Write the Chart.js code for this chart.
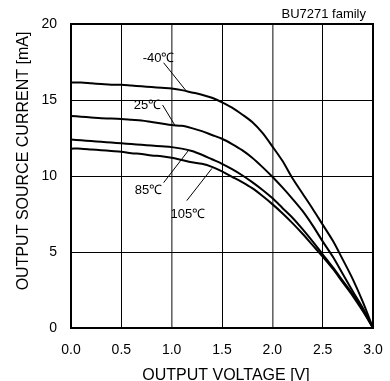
<!DOCTYPE html>
<html>
<head>
<meta charset="utf-8">
<script src="https://cdn.jsdelivr.net/npm/chart.js@4.4.1/dist/chart.umd.min.js"></script>
<style>
  html, body { margin: 0; padding: 0; background: #fff; overflow: hidden; }
  #wrap { width: 390px; height: 381px; }
</style>
</head>
<body>
<div id="wrap"><canvas id="myChart" width="390" height="381"></canvas></div>
<script>
// 出力電圧 [V]
var voltage = [0.0,0.1,0.2,0.3,0.4,0.5,0.6,0.7,0.8,0.9,1.0,1.1,1.2,1.3,1.4,1.5,
               1.6,1.7,1.8,1.9,2.0,2.1,2.2,2.3,2.4,2.5,2.6,2.7,2.8,2.9,3.0];
// 出力ソース電流 [mA]
var cur_m40 = [16.15,16.15,16.1,16.05,16.0,16.0,15.95,15.9,15.85,15.8,15.75,15.65,15.5,15.35,15.15,14.85,
               14.5,14.05,13.55,12.85,11.95,11.0,9.85,8.85,7.85,6.8,5.75,4.5,3.2,1.7,0];
var cur_25  = [13.95,13.9,13.85,13.8,13.78,13.75,13.7,13.65,13.55,13.45,13.35,13.3,13.15,12.95,12.7,12.45,
               12.1,11.7,11.2,10.6,9.95,9.25,8.5,7.7,6.75,5.7,4.7,3.55,2.4,1.3,0];
var cur_85  = [12.4,12.35,12.3,12.25,12.2,12.15,12.1,12.05,12.0,11.95,11.9,11.8,11.65,11.4,11.1,10.8,
               10.45,10.05,9.6,9.1,8.55,7.9,7.25,6.5,5.7,4.85,4.0,3.1,2.2,1.2,0];
var cur_105 = [11.8,11.8,11.75,11.7,11.65,11.6,11.5,11.45,11.35,11.3,11.2,11.05,10.9,10.8,10.6,10.3,
               9.95,9.6,9.2,8.7,8.15,7.55,6.9,6.2,5.45,4.7,3.9,3.0,2.1,1.1,0];
var x_ticks = [0.0,0.5,1.0,1.5,2.0,2.5,3.0];
var y_ticks = [0,5,10,15,20];
var x_title = 'OUTPUT VOLTAGE [V]';
var y_title = 'OUTPUT SOURCE CURRENT [mA]';
var note = 'BU7271 family';

// 温度ラベルと引き出し線 (データ座標)
var labels = [
  {text:'-40℃', x:0.87, y:17.75, line:[0.92,17.45,1.15,15.55]},
  {text:'25℃',  x:0.76, y:14.67, line:[0.91,14.67,1.03,13.36]},
  {text:'85℃',  x:0.77, y:9.05,  line:[0.92,9.56,1.17,11.71]},
  {text:'105℃', x:1.16, y:7.48,  line:[1.15,8.38,1.40,10.5]}
];

function pts(arr){
  var out = [];
  for (var i = 0; i < voltage.length; i++) out.push({x: voltage[i], y: arr[i]});
  return out;
}
function ds(arr){
  return {data: pts(arr), borderColor:'#000', borderWidth:2, pointRadius:0, tension:0.3, fill:false};
}

var FONT = 'Liberation Sans, Arial, sans-serif';

var frame = {
  id: 'frame',
  afterDatasetsDraw: function(chart){
    var c = chart.ctx, a = chart.chartArea, xs = chart.scales.x, ys = chart.scales.y;
    c.save();
    c.strokeStyle = '#000';
    c.lineWidth = 2;
    c.strokeRect(a.left, a.top, a.right - a.left, a.bottom - a.top);
    // ラベル
    c.font = '13px ' + FONT;
    c.fillStyle = '#000';
    c.textAlign = 'center';
    c.textBaseline = 'middle';
    c.lineWidth = 1;
    labels.forEach(function(l){
      c.fillText(l.text, xs.getPixelForValue(l.x), ys.getPixelForValue(l.y));
      c.beginPath();
      c.moveTo(xs.getPixelForValue(l.line[0]), ys.getPixelForValue(l.line[1]));
      c.lineTo(xs.getPixelForValue(l.line[2]), ys.getPixelForValue(l.line[3]));
      c.stroke();
    });
    c.textAlign = 'right';
    c.fillText(note, 366, 14);
    // 軸タイトル
    c.font = '16px ' + FONT;
    c.textAlign = 'center';
    c.fillText(x_title, 226, 376);
    c.translate(24, 161);
    c.rotate(-Math.PI / 2);
    c.fillText(y_title, 0, 0);
    c.restore();
  }
};

var ctx = document.getElementById('myChart').getContext('2d');
var myChart = new Chart(ctx, {
  type: 'line',
  data: {
    datasets: [ds(cur_m40), ds(cur_25), ds(cur_85), ds(cur_105)]
  },
  options: {
    responsive: false,
    animation: false,
    layout: {padding: {top: 24, right: 17, left: 0, bottom: 0}},
    plugins: {legend: {display: false}, tooltip: {enabled: false}},
    scales: {
      x: {
        type: 'linear', min: 0, max: 3,
        afterBuildTicks: function(s){ s.ticks = x_ticks.map(function(v){ return {value: v}; }); },
        afterFit: function(s){ s.height = 53; s.paddingLeft = 0; s.paddingRight = 0; },
        ticks: {color:'#000', font:{family:FONT, size:14}, padding:14, maxRotation:0,
                callback: function(v){ return Number(v).toFixed(1); }},
        grid: {color: function(c){ return (c.tick && (c.tick.value === 1 || c.tick.value === 2)) ? '#666' : '#000'; },
               lineWidth: function(c){ return (c.tick && (c.tick.value === 1 || c.tick.value === 2)) ? 1.6 : 1; },
               drawTicks:false},
        border: {display:false}
      },
      y: {
        type: 'linear', min: 0, max: 20,
        afterBuildTicks: function(s){ s.ticks = y_ticks.map(function(v){ return {value: v}; }); },
        afterFit: function(s){ s.width = 71; s.paddingTop = 0; s.paddingBottom = 0; },
        ticks: {color:'#000', font:{family:FONT, size:14}, padding:14},
        grid: {color:'#000', lineWidth:1, drawTicks:false},
        border: {display:false}
      }
    }
  },
  plugins: [frame]
});
</script>
</body>
</html>
